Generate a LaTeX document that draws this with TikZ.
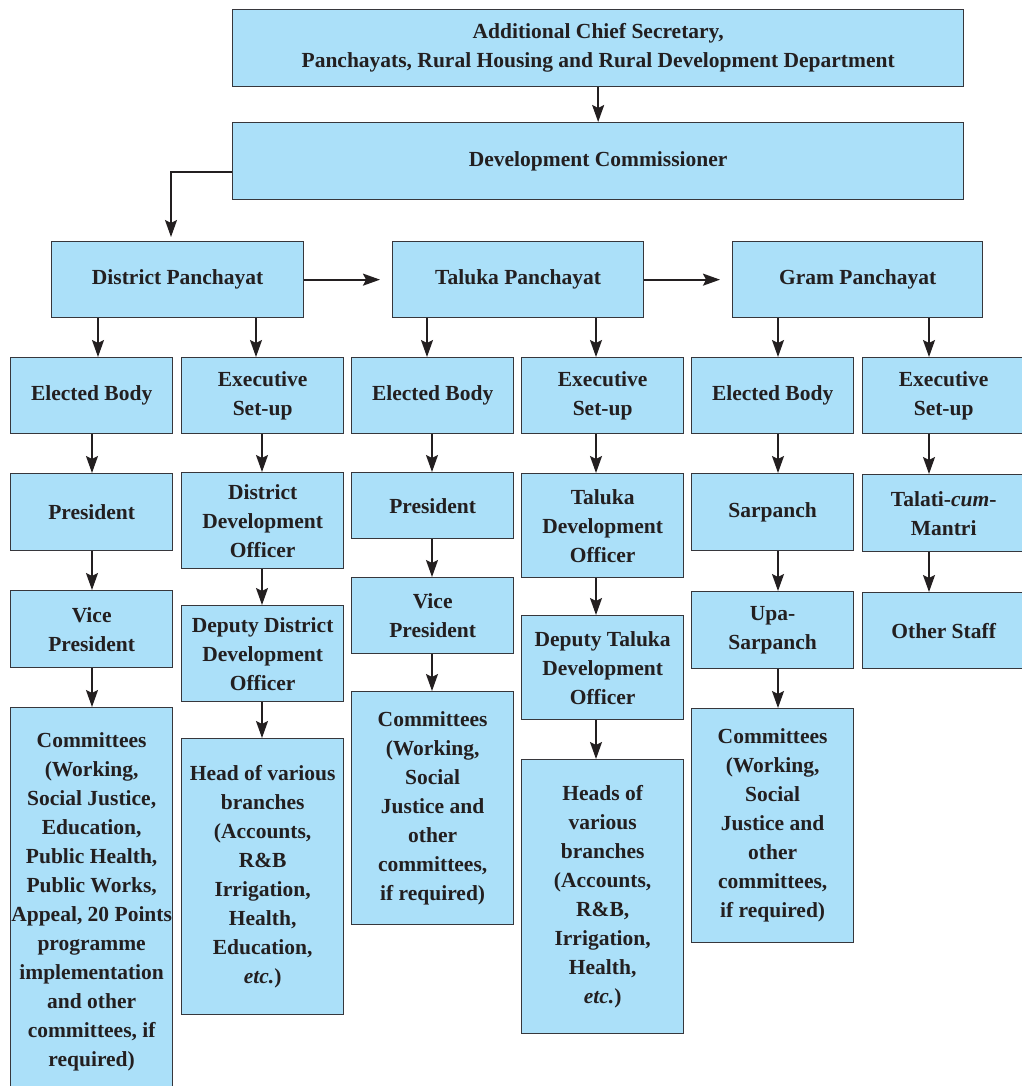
\documentclass[tikz,border=0pt]{standalone}
\usepackage{fontspec}
\setmainfont{Liberation Serif}
\usetikzlibrary{arrows.meta}
\definecolor{boxfill}{RGB}{171,224,249}
\definecolor{boxline}{RGB}{55,55,60}
\definecolor{ink}{RGB}{35,31,32}

\begin{document}
\begin{tikzpicture}[x=1pt,y=-1pt,>={Stealth[length=17pt,width=12pt,inset=3pt]},
    box/.style={draw=boxline,line width=1.3pt,fill=boxfill,text=ink,anchor=north west,
      align=center,inner sep=0pt,font=\bfseries\fontsize{21.5}{29}\selectfont},
    colbox/.style={box,minimum width=162pt},
    arr/.style={->,draw=ink,line width=1.8pt}]
    \useasboundingbox (0,0) rectangle (1021,1086);
    % Top of the hierarchy (coordinates are the top-left corners, in px)
    \node[box,minimum width=731pt,minimum height=77pt] (acs) at (232,9)
      {Additional Chief Secretary,\\Panchayats, Rural Housing and Rural Development Department};
    \node[box,minimum width=731pt,minimum height=77pt] (dc) at (232,122) {Development Commissioner};
    % The three tiers
    \node[box,minimum width=252pt,minimum height=76pt] (dp) at (51,241) {District Panchayat};
    \node[box,minimum width=251pt,minimum height=76pt] (tp) at (392,241) {Taluka Panchayat};
    \node[box,minimum width=250pt,minimum height=76pt] (gp) at (732,241) {Gram Panchayat};
    % District: elected body
    \node[colbox,minimum height=76pt] (eb1) at (10,357) {Elected Body};
    \node[colbox,minimum height=77pt] (pres1) at (10,473) {President};
    \node[colbox,minimum height=77pt] (vp1) at (10,590) {Vice\\President};
    \node[colbox,minimum height=388pt] (com1) at (10,707) {Committees\\(Working,\\Social Justice,\\Education,\\Public Health,\\Public Works,\\Appeal, 20 Points\\programme\\implementation\\and other\\committees, if\\required)};
    % District: executive set-up
    \node[colbox,minimum height=76pt] (ex1) at (181,357) {Executive\\Set-up};
    \node[colbox,minimum height=96pt] (ddo) at (181,472) {District\\Development\\Officer};
    \node[colbox,minimum height=96pt] (dddo) at (181,605) {Deputy District\\Development\\Officer};
    \node[colbox,minimum height=276pt] (hvb1) at (181,738) {Head of various\\branches\\(Accounts,\\R\&B\\Irrigation,\\Health,\\Education,\\\textit{etc.})};
    % Taluka: elected body
    \node[colbox,minimum height=76pt] (eb2) at (351,357) {Elected Body};
    \node[colbox,minimum height=66pt] (pres2) at (351,472) {President};
    \node[colbox,minimum height=76pt] (vp2) at (351,577) {Vice\\President};
    \node[colbox,minimum height=233pt] (com2) at (351,691) {Committees\\(Working,\\Social\\Justice and\\other\\committees,\\if required)};
    % Taluka: executive set-up
    \node[colbox,minimum height=76pt] (ex2) at (521,357) {Executive\\Set-up};
    \node[colbox,minimum height=104pt] (tdo) at (521,473) {Taluka\\Development\\Officer};
    \node[colbox,minimum height=104pt] (dtdo) at (521,615) {Deputy Taluka\\Development\\Officer};
    \node[colbox,minimum height=274pt] (hvb2) at (521,759) {Heads of\\various\\branches\\(Accounts,\\R\&B,\\Irrigation,\\Health,\\\textit{etc.})};
    % Gram: elected body
    \node[colbox,minimum height=76pt] (eb3) at (691,357) {Elected Body};
    \node[colbox,minimum height=77pt] (sar) at (691,473) {Sarpanch};
    \node[colbox,minimum height=77pt] (usar) at (691,591) {Upa-\\Sarpanch};
    \node[colbox,minimum height=234pt] (com3) at (691,708) {Committees\\(Working,\\Social\\Justice and\\other\\committees,\\if required)};
    % Gram: executive set-up (runs off the right edge)
    \node[colbox,minimum height=76pt] (ex3) at (862,357) {Executive\\Set-up};
    \node[colbox,minimum height=77pt] (tcm) at (862,474) {Talati-\textit{cum}-\\Mantri};
    \node[colbox,minimum height=76pt] (os) at (862,592) {Other Staff};
    % Connectors between the upper boxes
    \draw[arr] (acs.south) -- (dc.north);
    \draw[arr,shorten >=4pt] ([yshift=-10.5pt]dc.west) -| ([xshift=120pt]dp.north west);
    \draw[arr,shorten >=12pt] (dp) -- (tp);
    \draw[arr,shorten >=12pt] (tp) -- (gp);
    % Each tier splits into its two columns
    \foreach \p/\c/\x in {dp/eb1/98, dp/ex1/256, tp/eb2/427, tp/ex2/596, gp/eb3/778, gp/ex3/929}
      \draw[arr] (\p.south -| \x,0) -- (\c.north -| \x,0);
    % Down each column
    \foreach \a/\b/\x in {eb1/pres1/92, pres1/vp1/92, vp1/com1/92,
        ex1/ddo/262, ddo/dddo/262, dddo/hvb1/262,
        eb2/pres2/432, pres2/vp2/432, vp2/com2/432,
        ex2/tdo/596, tdo/dtdo/596, dtdo/hvb2/596,
        eb3/sar/778, sar/usar/778, usar/com3/778,
        ex3/tcm/929, tcm/os/929}
      \draw[arr] (\a.south -| \x,0) -- (\b.north -| \x,0);
\end{tikzpicture}
\end{document}
